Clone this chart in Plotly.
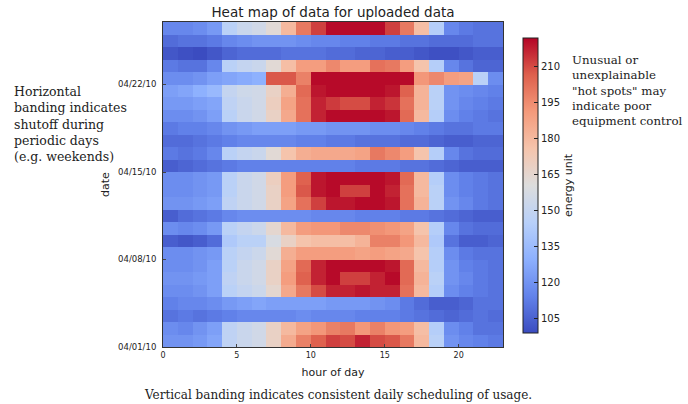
import plotly.graph_objects as go

hours = list(range(23))
dates = ["04/%02d/10" % d for d in range(1, 27)]
date_ticks = ["04/01/10", "04/08/10", "04/15/10", "04/22/10"]
cbar_ticks = [105, 120, 135, 150, 165, 180, 195, 210]

# energy values, one list per date (04/01/10 ... 04/26/10), 23 hourly columns
d01 = [120,120,122,126,148,152,155,168,185,198,206,212,210,217,210,208,200,180,146,120,116,114,112]
d02 = [118,116,120,124,148,152,155,168,180,188,192,198,200,192,198,192,190,178,144,118,114,110,110]
d03 = [110,112,110,112,114,116,116,116,116,118,116,116,116,114,114,114,112,110,108,106,108,110,108]
d04 = [114,116,116,118,122,124,126,124,124,124,124,122,122,122,120,118,112,108,104,104,106,110,110]
d05 = [118,118,120,124,146,150,153,165,186,200,210,217,217,219,217,217,202,180,144,118,114,112,110]
d06 = [120,120,122,124,148,152,155,168,190,206,217,221,212,212,217,221,204,182,146,120,116,112,110]
d07 = [118,118,120,124,146,152,155,168,188,204,217,221,221,221,221,219,204,180,144,120,114,112,110]
d08 = [118,118,120,122,146,150,153,163,184,190,190,190,190,188,190,188,186,176,144,118,112,110,110]
d09 = [104,102,104,108,142,146,146,158,168,176,178,178,178,182,198,198,192,180,142,110,104,104,106]
d10 = [118,116,118,122,146,150,153,165,180,190,192,192,196,196,194,192,188,176,144,116,110,108,108]
d11 = [104,108,110,112,116,118,118,118,118,118,116,116,116,114,114,114,112,112,110,108,106,104,104]
d12 = [120,120,122,124,148,152,155,168,188,202,212,219,219,221,221,219,202,182,146,120,116,112,110]
d13 = [118,118,120,122,146,152,155,168,190,208,219,221,212,212,221,217,202,180,146,118,114,112,110]
d14 = [118,118,120,122,146,152,155,170,190,206,219,221,221,221,221,219,204,180,144,118,114,112,110]
d15 = [104,106,108,110,112,114,114,114,114,114,114,114,114,112,112,112,110,110,108,106,104,104,104]
d16 = [112,110,112,116,146,150,152,163,176,184,186,186,186,188,200,196,190,176,144,116,110,108,108]
d17 = [108,108,110,112,114,116,116,116,116,114,114,112,112,110,110,110,108,108,106,104,104,106,106]
d18 = [112,114,114,116,120,122,124,124,124,122,122,120,120,120,118,118,116,114,112,110,110,112,112]
d19 = [118,118,120,124,146,152,155,168,186,202,217,221,221,221,221,219,204,180,144,118,114,112,110]
d20 = [122,122,124,126,148,152,155,170,188,202,217,213,210,210,217,214,202,182,146,120,116,114,112]
d21 = [124,126,130,134,150,154,155,168,184,204,219,221,221,221,221,219,206,182,146,120,118,116,114]
d22 = [118,118,120,124,126,128,130,208,208,198,221,221,221,221,221,221,221,192,196,190,188,146,118]
d23 = [112,110,110,116,146,150,152,163,178,190,190,196,190,190,202,200,190,176,144,116,110,106,106]
d24 = [102,100,98,102,106,108,108,108,110,110,110,108,108,106,106,104,104,102,100,100,102,104,104]
d25 = [108,110,110,112,116,118,120,120,120,118,116,116,114,114,112,112,110,110,108,108,108,110,110]
d26 = [116,116,118,122,146,152,155,163,180,200,212,221,221,221,221,212,200,178,144,116,112,110,110]

energy = [d01, d02, d03, d04, d05, d06, d07, d08, d09, d10, d11, d12, d13,
          d14, d15, d16, d17, d18, d19, d20, d21, d22, d23, d24, d25, d26]

coolwarm = [
    [0.0, "#3b4cc0"], [0.125, "#6282ea"], [0.25, "#8db0fe"], [0.375, "#b8d0f9"],
    [0.5, "#dddddd"], [0.625, "#f5c4ac"], [0.75, "#f49a7b"], [0.875, "#de604d"],
    [1.0, "#b40426"],
]

fig = go.Figure(go.Heatmap(
    z=energy, x0=0.5, dx=1, y0=0.5, dy=1,
    colorscale=coolwarm, zmin=99, zmax=222,
    colorbar=dict(
        x=1.0588, xanchor="left", xref="paper", xpad=0, ypad=0,
        y=0.497, yanchor="middle", len=0.908, lenmode="fraction",
        thickness=15, outlinecolor="#222", outlinewidth=1,
        tickvals=cbar_ticks, ticks="inside", ticklen=4, tickcolor="#222",
        tickfont=dict(family="DejaVu Sans", size=10, color="#222"),
        title=dict(text="energy unit", side="right",
                   font=dict(family="DejaVu Sans", size=11, color="#222")),
    ),
))

date_idx = [dates.index(d) for d in date_ticks]

fig.update_xaxes(
    range=[0, 23], tickvals=[0, 5, 10, 15, 20], ticks="inside", ticklen=3,
    showline=True, mirror=True, linecolor="#333", linewidth=1,
    showgrid=False, zeroline=False,
    tickfont=dict(family="DejaVu Sans", size=8, color="#222"),
    title=dict(text="hour of day", standoff=9,
               font=dict(family="DejaVu Sans", size=11, color="#222")),
)
fig.update_yaxes(
    range=[0, 26], tickvals=date_idx, ticktext=date_ticks, ticks="inside", ticklen=3,
    showline=True, mirror=True, linecolor="#333", linewidth=1,
    showgrid=False, zeroline=False, ticklabelstandoff=4,
    tickfont=dict(family="DejaVu Sans", size=8.5, color="#222"),
    title=dict(text="date", standoff=6,
               font=dict(family="DejaVu Sans", size=11, color="#222")),
)

fig.add_annotation(
    xref="paper", yref="paper", x=-0.444, y=0.815, xanchor="left", yanchor="top",
    text="Horizontal<br>banding indicates<br>shutoff during<br>periodic days<br>(e.g. weekends)",
    showarrow=False, align="left",
    font=dict(family="DejaVu Serif", size=12.5, color="#222"),
)
fig.add_annotation(
    xref="paper", yref="paper", x=1.197, y=0.911, xanchor="left", yanchor="top",
    text="Unusual or<br>unexplainable<br>\"hot spots\" may<br>indicate poor<br>equipment control",
    showarrow=False, align="left",
    font=dict(family="DejaVu Serif", size=11.8, color="#222"),
)
fig.add_annotation(
    xref="paper", yref="paper", x=0.515, y=-0.148, xanchor="center", yanchor="middle",
    text="Vertical banding indicates consistent daily scheduling of usage.",
    showarrow=False,
    font=dict(family="DejaVu Serif", size=12, color="#222"),
)

fig.update_layout(
    width=688, height=404,
    margin=dict(l=163, r=185, t=22, b=57),
    paper_bgcolor="white", plot_bgcolor="white",
    title=dict(text="Heat map of data for uploaded data", x=0.484, xanchor="center",
               y=0.97, yanchor="middle",
               font=dict(family="DejaVu Sans", size=13.5, color="#222")),
)

fig.write_html("out.html", config={"displayModeBar": False},
               post_script="document.body.style.margin='0';")
